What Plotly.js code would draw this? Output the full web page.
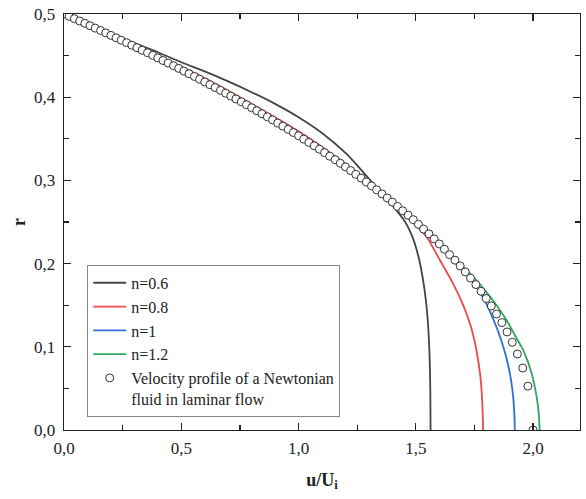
<!DOCTYPE html>
<html><head><meta charset="utf-8">
<script src="https://cdn.plot.ly/plotly-3.0.1.min.js"></script>
<style>body{margin:0;background:#fff}#chart{width:586px;height:499px}</style>
</head><body><div id="chart"></div>
<script>
// Newtonian laminar profile (open circles)
const newtU = [0,0.022,0.044,0.067,0.089,0.111,0.133,0.156,0.178,0.2,0.222,0.244,0.267,0.289,0.311,0.333,0.356,0.378,0.4,0.422,0.444,0.467,0.489,0.511,0.533,0.556,0.578,0.6,0.622,0.644,0.667,0.689,0.711,0.733,0.756,0.778,0.8,0.822,0.844,0.867,0.889,0.911,0.933,0.956,0.978,1.0,1.022,1.044,1.067,1.089,1.111,1.133,1.156,1.178,1.2,1.222,1.244,1.267,1.289,1.311,1.333,1.356,1.378,1.4,1.422,1.444,1.467,1.489,1.511,1.533,1.556,1.578,1.6,1.622,1.644,1.667,1.689,1.711,1.733,1.756,1.778,1.8,1.822,1.844,1.867,1.889,1.911,1.933,1.956,1.978,2.0];
const newtR = [0.5,0.4972,0.4944,0.4916,0.4888,0.4859,0.4830,0.4802,0.4773,0.4743,0.4714,0.4685,0.4655,0.4625,0.4595,0.4564,0.4534,0.4503,0.4472,0.4441,0.4410,0.4378,0.4346,0.4314,0.4282,0.4249,0.4216,0.4183,0.4150,0.4116,0.4082,0.4048,0.4014,0.3979,0.3944,0.3909,0.3873,0.3837,0.3801,0.3764,0.3727,0.3689,0.3652,0.3613,0.3575,0.3536,0.3496,0.3456,0.3416,0.3375,0.3333,0.3291,0.3249,0.3206,0.3162,0.3118,0.3073,0.3028,0.2981,0.2934,0.2887,0.2838,0.2789,0.2739,0.2687,0.2635,0.2582,0.2528,0.2472,0.2415,0.2357,0.2297,0.2236,0.2173,0.2108,0.2041,0.1972,0.1900,0.1826,0.1748,0.1667,0.1581,0.1491,0.1394,0.1291,0.1179,0.1054,0.0913,0.0745,0.0527,0];

// n = 0.6
const n06U = [0,0.1,0.2,0.3,0.4,0.5,0.6,0.7,0.8,0.9,1.0,1.1,1.2,1.25,1.3,1.35,1.4,1.45,1.48,1.5,1.515,1.53,1.542,1.55,1.556,1.56,1.562,1.563];
const n06R = [0.5,0.489,0.477,0.465,0.454,0.442,0.431,0.419,0.406,0.392,0.376,0.357,0.333,0.318,0.302,0.286,0.27,0.252,0.236,0.22,0.204,0.182,0.158,0.135,0.108,0.075,0.04,0];
// n = 0.8
const n08U = [0,0.2,0.4,0.6,0.8,1.0,1.2,1.35,1.45,1.5,1.546,1.603,1.659,1.702,1.735,1.759,1.775,1.783,1.787];
const n08R = [0.5,0.4755,0.45,0.423,0.392,0.359,0.32,0.287,0.259,0.246,0.232,0.204,0.176,0.15,0.124,0.095,0.065,0.035,0];
// n = 1
const n10U = [0,0.4,0.8,1.2,1.5,1.65,1.731,1.785,1.82,1.849,1.873,1.892,1.906,1.915,1.92,1.922];
const n10R = [0.5,0.4472,0.3873,0.3162,0.25,0.2092,0.184,0.16,0.14,0.12,0.1,0.08,0.06,0.04,0.02,0];
// n = 1.2
const n12U = [0,0.4,0.8,1.2,1.5,1.65,1.745,1.8,1.844,1.887,1.93,1.958,1.994,2.015,2.024,2.028];
const n12R = [0.5,0.4472,0.3873,0.3162,0.25,0.21,0.184,0.166,0.15,0.132,0.11,0.096,0.068,0.04,0.02,0];

const xTicks = [0,0.5,1.0,1.5,2.0];
const yTicks = [0,0.1,0.2,0.3,0.4,0.5];

const FONT = 'Liberation Serif, Times New Roman, serif';
function line(x,y,name,color){
  return {x:x,y:y,name:name,type:'scatter',mode:'lines',
    line:{color:color,width:1.8,shape:'spline',smoothing:0.8}};
}
const traces = [
  line(n06U,n06R,'n=0.6','#444444'),
  line(n08U,n08R,'n=0.8','#f04848'),
  line(n10U,n10R,'n=1','#2e6fd8'),
  line(n12U,n12R,'n=1.2','#2ea860'),
  {x:newtU,y:newtR,name:'Velocity profile of a Newtonian<br>fluid in laminar flow',type:'scatter',mode:'markers',
   marker:{symbol:'circle',size:8,color:'#ffffff',line:{color:'#333333',width:1}}}
];
const axisCommon = {showline:true,linecolor:'#222',linewidth:1.3,mirror:'ticks',ticks:'inside',ticklen:7,tickwidth:1.3,tickcolor:'#222',
  showgrid:false,zeroline:false,tickfont:{family:FONT,size:17,color:'#222'},tickformat:'.1f'};
const layout = {
  width:586,height:499,separators:', ',
  margin:{l:64,r:6,t:14,b:69},
  paper_bgcolor:'#fff',plot_bgcolor:'#fff',
  font:{family:FONT,color:'#222'},
  showlegend:true,
  xaxis:Object.assign({},axisCommon,{range:[0,2.2],tickvals:xTicks,ticklabelstandoff:2,
    minor:{dtick:0.25,tick0:0,ticks:'inside',ticklen:5,tickwidth:1.3,tickcolor:'#222'},
    title:{text:'<b>u/U<sub>i</sub></b>',font:{family:FONT,size:18,color:'#222'},standoff:16}}),
  yaxis:Object.assign({},axisCommon,{range:[0,0.5],tickvals:yTicks,ticklabelstandoff:4,
    minor:{dtick:0.05,tick0:0,ticks:'inside',ticklen:5,tickwidth:1.3,tickcolor:'#222'},
    title:{text:'<b>r</b>',font:{family:FONT,size:18,color:'#222'},standoff:3}}),
  legend:{x:0.045,y:0.397,xanchor:'left',yanchor:'top',bgcolor:'#fff',bordercolor:'#888',borderwidth:1,
    font:{family:FONT,size:16,color:'#222'},itemwidth:33,valign:'top',tracegroupgap:0,
    entrywidth:232,entrywidthmode:'pixels'}
};
Plotly.newPlot('chart',traces,layout,{displayModeBar:false,staticPlot:true});
</script></body></html>
